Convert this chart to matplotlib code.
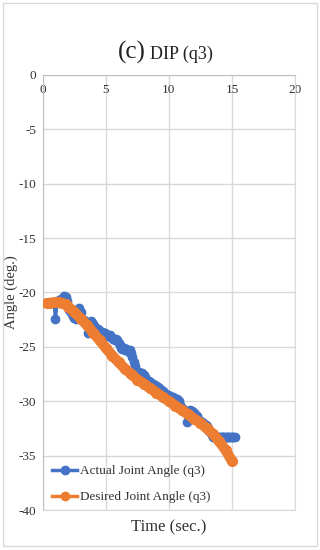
import matplotlib.pyplot as plt
import numpy as np
from matplotlib.lines import Line2D
from matplotlib.patches import Rectangle

plt.rcParams['font.family'] = ['Liberation Serif', 'DejaVu Serif']
plt.rcParams['axes.unicode_minus'] = False

# actual joint angle, sampled every 0.1 s from 0.8 s to 15.2 s
t_act = np.round(np.arange(8, 153) / 10, 1)
q_act = [-21.0, -21.0, -22.4, -21.0, -20.8, -20.7, -20.6, -20.7, -20.5, -20.3,
         -20.4, -20.8, -21.3, -21.6, -21.8, -22.0, -22.2, -22.3, -22.4, -22.2,
         -21.5, -21.4, -21.8, -22.4, -22.6, -22.5, -22.7, -23.0, -23.7, -22.9,
         -22.6, -22.8, -22.9, -23.2, -23.4, -23.5, -23.4, -23.5, -23.6, -23.6,
         -23.7, -23.7, -23.8, -23.9, -24.0, -23.9, -24.1, -24.2, -24.3, -24.4,
         -24.3, -24.4, -24.6, -24.8, -25.1, -25.2, -25.1, -25.3, -25.2, -25.3,
         -25.5, -25.3, -25.6, -25.9, -26.4, -26.8, -27.2, -27.3, -27.3, -27.4,
         -27.5, -27.4, -27.6, -27.8, -28.0, -28.1, -28.1, -28.2, -28.3, -28.4,
         -28.5, -28.5, -28.6, -28.7, -28.8, -28.9, -29.0, -29.1, -29.2, -29.3,
         -29.3, -29.4, -29.5, -29.5, -29.6, -29.6, -29.7, -29.8, -29.8, -29.9,
         -30.0, -30.3, -30.6, -30.7, -30.8, -31.0, -31.9, -31.2, -30.9, -30.8,
         -30.9, -31.0, -31.1, -31.2, -31.4, -31.6, -31.8, -31.8, -31.9, -32.0,
         -32.1, -32.2, -32.3, -32.5, -32.7, -32.9, -33.1, -33.3, -33.3, -33.3,
         -33.3, -33.3, -33.3, -33.3, -33.3, -33.3, -33.3, -33.3, -33.3, -33.3,
         -33.3, -33.3, -33.3, -33.3, -33.3]

# desired joint angle
t_des = [0.3, 0.6, 1.0, 1.3, 1.5, 1.8, 2.0, 2.5, 3.0, 3.5, 4.0, 4.5, 5.0, 5.5, 6.0,
         6.5, 7.0, 7.5, 8.0, 8.5, 9.0, 9.5, 10.0, 10.5, 11.0, 11.5, 12.0, 12.5,
         13.0, 13.5, 14.0, 14.5, 15.0]
q_des = [-21.0, -20.95, -20.9, -20.9, -21.0, -21.1, -21.3, -21.8, -22.4, -23.0,
         -23.7, -24.4, -25.1, -25.8, -26.4, -27.0, -27.5, -28.0, -28.4, -28.8,
         -29.2, -29.6, -30.0, -30.4, -30.8, -31.2, -31.6, -32.0, -32.5, -33.0,
         -33.7, -34.5, -35.5]

x_ticks = [0, 5, 10, 15, 20]
y_ticks = [0, -5, -10, -15, -20, -25, -30, -35, -40]

blue = '#4472C4'
orange = '#ED7D31'
grid_c = '#D9D9D9'
txt_c = '#333333'

fig = plt.figure(figsize=(3.2, 5.5), dpi=100)
fig.patches.append(Rectangle((0.01, 0.008), 0.98, 0.986, transform=fig.transFigure,
                             fill=False, edgecolor=grid_c, linewidth=1))
ax = fig.add_axes([0.134, 0.0727, 0.788, 0.791])

ax.plot(t_act, q_act, color=blue, lw=2.5, marker='o', ms=6, zorder=3)
ax.plot(t_des, q_des, color=orange, lw=7.5, marker='o', ms=7, zorder=4,
        solid_capstyle='round', solid_joinstyle='round')

ax.set_xlim(0, 20)
ax.set_ylim(-40, 0)
ax.set_xticks(x_ticks)
ax.set_yticks(y_ticks)
ax.xaxis.set_ticks_position('top')
ax.tick_params(axis='x', length=0, pad=-15, labelsize=9.5, colors=txt_c)
ax.tick_params(axis='y', length=0, pad=5, labelsize=9.5, colors=txt_c)
ax.grid(True, color=grid_c, lw=1)
ax.set_axisbelow(True)
for s in ['right', 'bottom']:
    ax.spines[s].set_color(grid_c)
for s in ['left', 'top']:
    ax.spines[s].set_color('#BFBFBF')

ax.set_ylabel('Angle (deg.)', fontsize=10.5, color=txt_c)
ax.yaxis.set_label_coords(-0.1, 0.5)
ax.set_xlabel('Time (sec.)', fontsize=12, color=txt_c, labelpad=7)

fig.text(0.455, 0.893, '(c)', fontsize=18, ha='right', va='baseline', color='#222222')
fig.text(0.47, 0.893, 'DIP (q3)', fontsize=13, ha='left', va='baseline', color='#222222')

handles = [Line2D([], [], color=blue, lw=2.5, marker='o', ms=6),
           Line2D([], [], color=orange, lw=2.5, marker='o', ms=6)]
ax.legend(handles, ['Actual Joint Angle (q3)', 'Desired Joint Angle (q3)'],
          loc='lower left', bbox_to_anchor=(-0.01, -0.012), frameon=False,
          fontsize=9.5, handlelength=1.9, labelspacing=1.05, handletextpad=0.2,
          labelcolor=txt_c)

fig.savefig('out.png', dpi=100)
